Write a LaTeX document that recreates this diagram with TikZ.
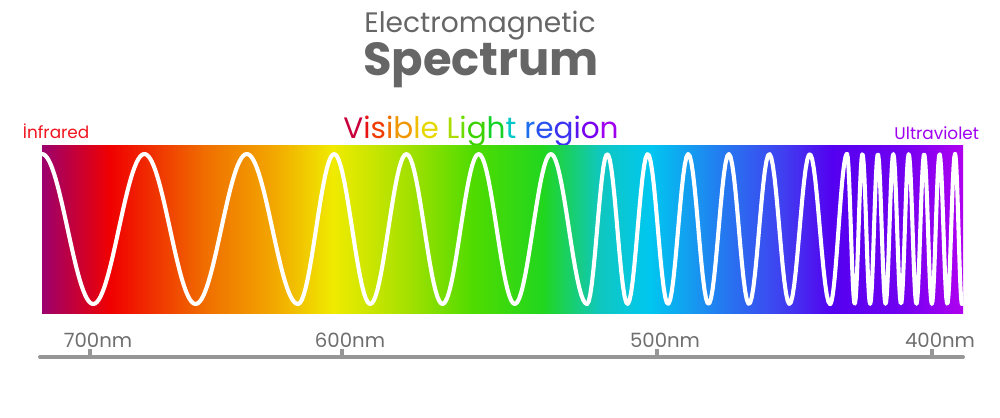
\documentclass[tikz,border=0pt]{standalone}
\usepackage{fontspec}
\setmainfont{Poppins}

\definecolor{titlegray}{RGB}{102,102,102}
\definecolor{axisgray}{RGB}{150,150,150}
\definecolor{labelgray}{RGB}{110,110,110}
\definecolor{irred}{RGB}{240,20,30}
\definecolor{uvpurple}{RGB}{160,0,240}

% rainbow band, 25bp..75bp is the band itself
\pgfdeclarehorizontalshading{rainbow}{100bp}{%
  rgb(0bp)=(.61,0,.43); rgb(25bp)=(.61,0,.43); rgb(28.7bp)=(.94,0,0);
  rgb(34bp)=(.94,.44,0); rgb(37.5bp)=(.95,.65,0); rgb(40.8bp)=(.94,.92,0);
  rgb(44.8bp)=(.65,.88,0); rgb(48.4bp)=(.31,.86,0); rgb(52.2bp)=(.13,.84,.12);
  rgb(55.3bp)=(.06,.78,.75); rgb(58bp)=(0,.78,.94); rgb(61.6bp)=(.13,.5,.94);
  rgb(65.2bp)=(.25,.25,.94); rgb(67.9bp)=(.33,0,.94); rgb(71.6bp)=(.44,0,.94);
  rgb(75bp)=(.69,0,.94); rgb(100bp)=(.69,0,.94)}

\newcommand{\lc}[2]{\textcolor[RGB]{#1}{#2}}

\begin{document}
\begin{tikzpicture}[x=0.025cm, y=0.025cm,
  wave/.style = {draw=white, line width=2.9pt, line cap=round, line join=round},
  side/.style = {font=\fontsize{12}{14}\selectfont, anchor=base},
  nm/.style = {font=\fontsize{14}{16}\selectfont, text=labelgray, anchor=base},
  axis/.style = {draw=axisgray, line width=2.8pt, line cap=round}]
\useasboundingbox (0,0) rectangle (1000,417);

% titles
\node[text=titlegray, anchor=base, font=\fontsize{20}{24}\selectfont] (em) at (480,385) {Electromagnetic};
\node[text=titlegray, anchor=base, font=\fontsize{33}{38}\selectfont\bfseries] (spec) at (481,342) {Spectrum};
\node[anchor=base, font=\fontsize{21}{25}\selectfont] (vis) at (481,279) {%
  \lc{200,0,60}{V}\lc{230,20,20}{i}\lc{240,60,0}{s}\lc{240,110,0}{i}\lc{240,150,0}{b}\lc{240,190,0}{l}\lc{230,215,0}{e}
  \lc{170,220,0}{L}\lc{110,220,0}{i}\lc{60,210,0}{g}\lc{20,210,40}{h}\lc{0,200,200}{t}
  \lc{30,110,240}{r}\lc{40,80,240}{e}\lc{60,50,240}{g}\lc{90,20,240}{i}\lc{120,0,240}{o}\lc{160,0,240}{n}};
\node[side, text=irred, anchor=base west] (ir) at (18,279) {İnfrared};
\node[side, text=uvpurple, anchor=base east] (uv) at (984,278) {Ultraviolet};

% band and wave
\fill[shading=rainbow] (42,104) rectangle (963,272);
\foreach \xa/\pa/\xb/\pb in {42/0/298/5, 298/5/587/13, 587/13/830/25, 830/25/847/26, 847/26/955/40, 955/40/962/41}
  \draw[wave] plot[domain=\xa:\xb, samples=150] (\x, {188+75*cos(180*(\pa+(\x-\xa)*(\pb-\pa)/(\xb-\xa)))});

% wavelength axis
\coordinate (a0) at (40,60);
\coordinate (a1) at (963,60);
\draw[axis] (a0) -- (a1);
\foreach \t/\lab in {90/700, 342/600, 657/500, 932/400} {
  \coordinate (t\lab) at (\t,60);
  \draw[axis, line cap=butt] (t\lab) -- ++(0,8);
  \node[nm] (l\lab) at (\t+8,70) {\lab nm};
}
\end{tikzpicture}
\end{document}
